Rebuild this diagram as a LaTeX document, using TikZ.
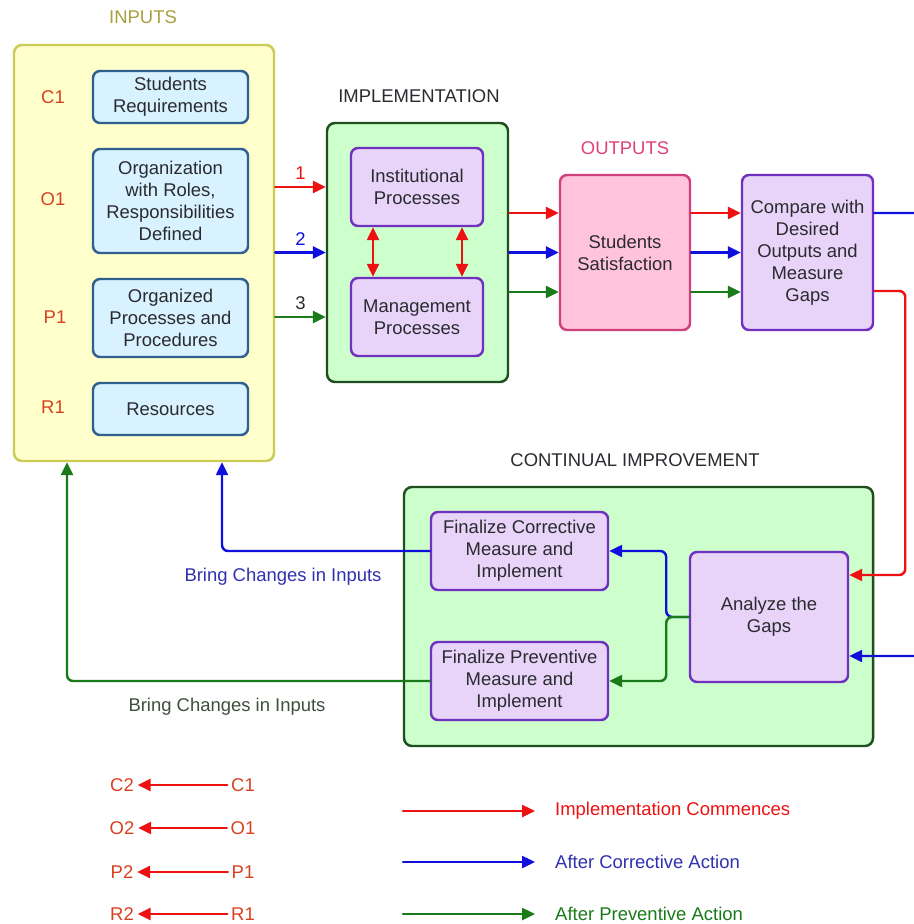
\documentclass[tikz,border=0pt]{standalone}
\usepackage{fontspec}
\setmainfont{Liberation Sans}
\usetikzlibrary{arrows.meta,calc}
\tikzset{>={Triangle[length=2.6mm,width=2.4mm]}}
\definecolor{InputFill}{HTML}{FFFFCC}
\definecolor{InputLine}{HTML}{CCCC55}
\definecolor{InputTitle}{HTML}{A8A040}
\definecolor{CodeRed}{HTML}{D84020}
\definecolor{SkyFill}{HTML}{D9F2FF}
\definecolor{SkyLine}{HTML}{2F5F8F}
\definecolor{MintFill}{HTML}{CCFFCC}
\definecolor{MintLine}{HTML}{1F4F1F}
\definecolor{LilacFill}{HTML}{E8D4F8}
\definecolor{LilacLine}{HTML}{7030C0}
\definecolor{RoseFill}{HTML}{FFC4DC}
\definecolor{RoseLine}{HTML}{D0407C}
\definecolor{RoseTitle}{HTML}{E0407A}
\definecolor{ArrowRed}{HTML}{EE1111}
\definecolor{ArrowBlue}{HTML}{1010DD}
\definecolor{ArrowGreen}{HTML}{1A7A1A}
\definecolor{InkGrey}{HTML}{2A2A30}
\definecolor{NoteBlue}{HTML}{3030B0}
\definecolor{NoteGreen}{HTML}{3E4E3E}
\tikzset{
  Frame/.style={draw, rounded corners=1.6mm, line width=1.4pt},
  InputFrame/.style={Frame, draw=InputLine, fill=InputFill},
  MintFrame/.style={Frame, draw=MintLine, fill=MintFill},
  Box/.style={draw, rounded corners=1.4mm, line width=1.4pt, align=center, text=InkGrey},
  SkyBox/.style={Box, draw=SkyLine, fill=SkyFill, minimum width=3.1cm},
  LilacBox/.style={Box, draw=LilacLine, fill=LilacFill},
  RoseBox/.style={Box, draw=RoseLine, fill=RoseFill},
  TitleText/.style={text=InkGrey},
  CodeText/.style={text=CodeRed, inner sep=2pt},
  RedArrow/.style={->, draw=ArrowRed, fill=ArrowRed, line width=1.4pt},
  BlueArrow/.style={->, draw=ArrowBlue, fill=ArrowBlue, line width=1.4pt},
  GreenArrow/.style={->, draw=ArrowGreen, fill=ArrowGreen, line width=1.4pt}
}

\begin{document}
\begin{tikzpicture}[x=0.2mm, y=-0.2mm, line cap=round, font=\fontsize{10.5}{12.5}\selectfont]
  \path[use as bounding box, clip] (0,0) rectangle (914,924);

  % inputs
  \node[InputFrame, minimum width=5.2cm, minimum height=8.32cm] (Inputs) at (144,253) {};
  \node[TitleText, text=InputTitle] (InputsTitle) at (143,17) {INPUTS};
  \node[SkyBox, minimum height=1.04cm] (StudReq) at (170.5,97) {Students\\Requirements};
  \node[SkyBox, minimum height=2.08cm] (OrgRoles) at (170.5,201) {Organization\\with Roles,\\Responsibilities\\Defined};
  \node[SkyBox, minimum height=1.56cm] (OrgProc) at (170.5,318) {Organized\\Processes and\\Procedures};
  \node[SkyBox, minimum height=1.04cm] (Resources) at (170.5,409) {Resources};
  \node[CodeText] (CodeC) at (53,97) {C1};
  \node[CodeText] (CodeO) at (53,199) {O1};
  \node[CodeText] (CodeP) at (55,317) {P1};
  \node[CodeText] (CodeR) at (53,407) {R1};

  % implementation
  \node[MintFrame, minimum width=3.62cm, minimum height=5.18cm] (Impl) at (417.5,252.5) {};
  \node[TitleText] (ImplTitle) at (419,96) {IMPLEMENTATION};
  \node[LilacBox, minimum width=2.64cm, minimum height=1.56cm] (InstProc) at (417,187) {Institutional\\Processes};
  \node[LilacBox, minimum width=2.64cm, minimum height=1.56cm] (MgmtProc) at (417,317) {Management\\Processes};
  \draw[RedArrow, <->] ($(InstProc.south)+(-44,0)$) -- ($(MgmtProc.north)+(-44,0)$);
  \draw[RedArrow, <->] ($(InstProc.south)+(45,0)$) -- ($(MgmtProc.north)+(45,0)$);

  \draw[RedArrow] (Inputs.east |- InstProc) -- (Impl.west |- InstProc) node[midway, above, text=ArrowRed] {1};
  \draw[BlueArrow] (Inputs.east |- Impl) -- (Impl.west) node[midway, above, text=ArrowBlue] {2};
  \draw[GreenArrow] (Inputs.east |- MgmtProc) -- (Impl.west |- MgmtProc) node[midway, above, text=InkGrey] {3};

  % outputs
  \node[RoseBox, minimum width=2.6cm, minimum height=3.1cm] (StudSat) at (625,252.5) {Students\\Satisfaction};
  \node[TitleText, text=RoseTitle] (OutTitle) at (625,148) {OUTPUTS};
  \node[LilacBox, minimum width=2.62cm, minimum height=3.1cm] (Compare) at (807.5,252.5) {Compare with\\Desired\\Outputs and\\Measure\\Gaps};

  \draw[RedArrow] ($(Impl.east)+(0,-39.5)$) -- ($(StudSat.west)+(0,-39.5)$);
  \draw[BlueArrow] (Impl.east) -- (StudSat.west);
  \draw[GreenArrow] ($(Impl.east)+(0,39.5)$) -- ($(StudSat.west)+(0,39.5)$);
  \draw[RedArrow] ($(StudSat.east)+(0,-39.5)$) -- ($(Compare.west)+(0,-39.5)$);
  \draw[BlueArrow] (StudSat.east) -- (Compare.west);
  \draw[GreenArrow] ($(StudSat.east)+(0,39.5)$) -- ($(Compare.west)+(0,39.5)$);

  % continual improvement
  \node[MintFrame, minimum width=9.38cm, minimum height=5.18cm] (Improve) at (638.5,616.5) {};
  \node[TitleText] (ImproveTitle) at (635,460) {CONTINUAL IMPROVEMENT};
  \node[LilacBox, minimum width=3.54cm, minimum height=1.56cm] (FinCorr) at (519.5,551) {Finalize Corrective\\Measure and\\Implement};
  \node[LilacBox, minimum width=3.54cm, minimum height=1.56cm] (FinPrev) at (519.5,681) {Finalize Preventive\\Measure and\\Implement};
  \node[LilacBox, minimum width=3.16cm, minimum height=2.6cm] (Analyze) at (769,617) {Analyze the\\Gaps};

  \draw[RedArrow, fill=none, rounded corners=1.2mm] ($(Compare.east)+(0,38.5)$) -| ($(Analyze.east)+(56,-42)$) -- ($(Analyze.east)+(0,-42)$);
  \draw[BlueArrow, fill=none, rounded corners=1.2mm] ($(Compare.east)+(0,-39.5)$) -- ++(80,0) |- ($(Analyze.east)+(0,39)$);
  \draw[BlueArrow, fill=none, rounded corners=1.2mm] (Analyze.west) -| ($(FinCorr.east)+(57,0)$) -- (FinCorr.east);
  \draw[GreenArrow, fill=none, rounded corners=1.2mm] (Analyze.west) -| ($(FinPrev.east)+(57,0)$) -- (FinPrev.east);
  \draw[BlueArrow, fill=none, rounded corners=1.2mm] (FinCorr.west) -| ($(Inputs.south)+(78,0)$);
  \draw[GreenArrow, fill=none, rounded corners=1.2mm] (FinPrev.west) -| ($(Inputs.south)+(-77,0)$);
  \node[text=NoteBlue] (NoteCorr) at (283,577) {Bring Changes in Inputs};
  \node[text=NoteGreen] (NotePrev) at (227,707) {Bring Changes in Inputs};

  % legend
  \node[CodeText] (LegC2) at (122,785) {C2};
  \node[CodeText] (LegC1) at (243,785) {C1};
  \node[CodeText] (LegO2) at (122,828) {O2};
  \node[CodeText] (LegO1) at (243,828) {O1};
  \node[CodeText] (LegP2) at (122,872) {P2};
  \node[CodeText] (LegP1) at (243,872) {P1};
  \node[CodeText] (LegR2) at (122,914) {R2};
  \node[CodeText] (LegR1) at (243,914) {R1};
  \draw[RedArrow] (LegC1.west) -- (LegC2.east);
  \draw[RedArrow] (LegO1.west) -- (LegO2.east);
  \draw[RedArrow] (LegP1.west) -- (LegP2.east);
  \draw[RedArrow] (LegR1.west) -- (LegR2.east);

  \node[anchor=west, text=ArrowRed] (LegImpl) at (549,811) {Implementation Commences};
  \node[anchor=west, text=NoteBlue] (LegCorr) at (549,862) {After Corrective Action};
  \node[anchor=west, text=ArrowGreen] (LegPrev) at (549,914) {After Preventive Action};
  \coordinate (LegImplFrom) at (403,811);
  \coordinate (LegCorrFrom) at (403,862);
  \coordinate (LegPrevFrom) at (403,914);
  \draw[RedArrow] (LegImplFrom) -- ($(LegImpl.west)+(-14,0)$);
  \draw[BlueArrow] (LegCorrFrom) -- ($(LegCorr.west)+(-14,0)$);
  \draw[GreenArrow] (LegPrevFrom) -- ($(LegPrev.west)+(-14,0)$);
\end{tikzpicture}
\end{document}
